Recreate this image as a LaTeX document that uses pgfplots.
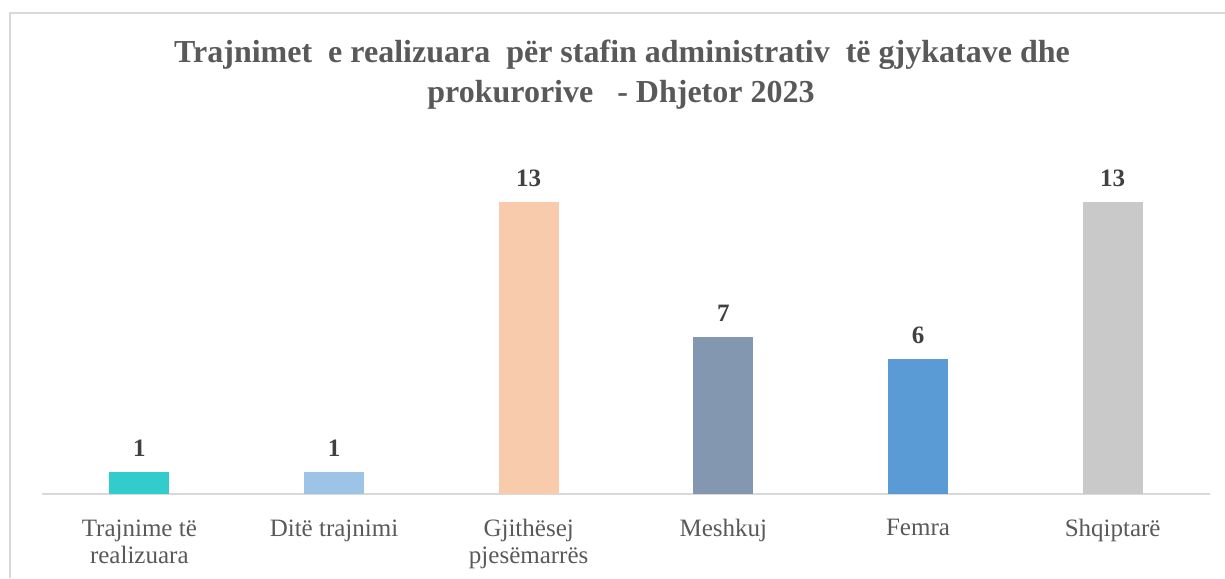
\documentclass[border=0pt]{standalone}
\usepackage{fontspec}
\setmainfont{Liberation Serif}
\usepackage{pgfplots}
\pgfplotsset{compat=1.18}

\definecolor{txt}{HTML}{595959}
\definecolor{lbl}{HTML}{404040}
\definecolor{gridc}{HTML}{D9D9D9}
\definecolor{c1}{HTML}{33CCCC}
\definecolor{c2}{HTML}{9DC3E6}
\definecolor{c3}{HTML}{F8CBAD}
\definecolor{c4}{HTML}{8497B0}
\definecolor{c5}{HTML}{5B9BD5}
\definecolor{c6}{HTML}{C9C9C9}

\begin{document}
\begin{tikzpicture}
% 1 px of the reference = 0.5pt
\useasboundingbox (0,0) rectangle (612.5pt,289pt);
\draw[gridc, line width=1pt] (5pt,0) -- (5pt,282.5pt) -- (612.5pt,282.5pt);

\node[font=\fontsize{16}{19}\selectfont\bfseries, text=txt] at (311pt,261.5pt)
  {Trajnimet\ \ e realizuara\ \ për stafin administrativ\ \ të gjykatave dhe};
\node[font=\fontsize{16}{19}\selectfont\bfseries, text=txt] at (310.5pt,241.5pt)
  {prokurorive\ \ \ - Dhjetor 2023};

\begin{axis}[
  at={(21pt,42pt)}, anchor=south west,
  scale only axis,
  width=584pt, height=157.2pt,
  ybar, bar width=30pt, bar shift=0pt,
  xmin=-0.5, xmax=5.5,
  ymin=0, ymax=14,
  axis y line=none,
  axis x line*=bottom,
  x axis line style={gridc, line width=1pt, -},
  xtick={0,1,2,3,4,5},
  xtick style={draw=none},
  xticklabels={{Trajnime të\\realizuara}, {Ditë trajnimi}, {Gjithësej\\pjesëmarrës}, {Meshkuj}, {Femra}, {Shqiptarë}},
  xticklabel style={align=center, text=txt, font=\fontsize{12.5}{13.5}\selectfont, anchor=north, yshift=-5pt},
  /pgf/number format/assume math mode=true,
  nodes near coords,
  nodes near coords style={font=\fontsize{12.5}{14}\selectfont\bfseries, text=lbl, anchor=south, yshift=4pt},
  clip=false,
]
\addplot[fill=c1, draw=none] coordinates {(0,1)};
\addplot[fill=c2, draw=none] coordinates {(1,1)};
\addplot[fill=c3, draw=none] coordinates {(2,13)};
\addplot[fill=c4, draw=none] coordinates {(3,7)};
\addplot[fill=c5, draw=none] coordinates {(4,6)};
\addplot[fill=c6, draw=none] coordinates {(5,13)};
\end{axis}
\end{tikzpicture}
\end{document}
